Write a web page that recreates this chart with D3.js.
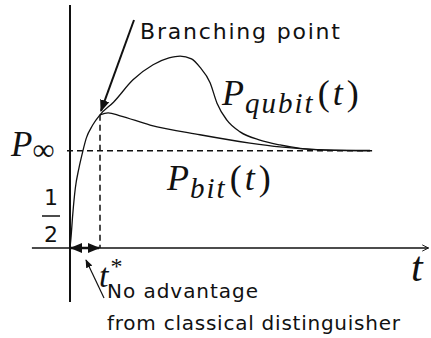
<!DOCTYPE html>
<html lang="en">
  <head>
    <meta charset="utf-8">
    <title>Branching point</title>
    <script type="text/javascript" src="https://cdn.jsdelivr.net/npm/d3@7/dist/d3.min.js"></script>
    <style type="text/css">
      body { margin: 0; background: #fff; }
      .sans { font-family: "DejaVu Sans", sans-serif; fill: #111; }
      .math { font-family: "Liberation Serif", serif; font-style: italic; fill: #111; }
    </style>
  </head>
  <body>
  <script type="text/javascript">

    const w = 431;
    const h = 338;

    // shared rise from 1/2 up to the branching point t*
    const riseT = [0, 0.033, 0.09, 0.177, 0.30, 0.423, 0.543, 0.757, 1.0];
    const riseP = [0.5, 0.521, 0.568, 0.623, 0.665, 0.698, 0.726, 0.753, 0.774];

    // qubit curve after t*
    const qubitT = [1.45, 2.1, 2.77, 3.3, 3.67, 4.05, 4.33, 4.67, 4.9, 5.23, 5.67, 6.33, 7.0, 7.67, 8.5, 10.0];
    const qubitP = [0.800, 0.846, 0.877, 0.891, 0.895, 0.889, 0.872, 0.840, 0.798, 0.763, 0.739, 0.722, 0.712, 0.705, 0.702, 0.701];

    // bit curve after t*
    const bitT = [1.0, 1.27, 1.67, 2.67, 4.33, 6.0, 7.0, 8.33, 10.0];
    const bitP = [0.774, 0.778, 0.772, 0.753, 0.733, 0.716, 0.708, 0.702, 0.700];

    const pInf = 0.70;
    const tStar = 1.0;
    const tEnd = 10.07;

    const x = d3.scaleLinear().domain([0, 12]).range([70, 430]);
    const y = d3.scaleLinear().domain([0.5, 1.0]).range([248, 5]);

    const svg = d3.select("body")
                  .append("svg")
                  .attr("width", w)
                  .attr("height", h);

    const defs = svg.append("defs");
    function head(id, size) {
      defs.append("marker")
          .attr("id", id)
          .attr("viewBox", "0 0 10 10")
          .attr("refX", 9).attr("refY", 5)
          .attr("markerWidth", size).attr("markerHeight", size)
          .attr("orient", "auto-start-reverse")
          .append("path")
          .attr("d", "M0,1 L10,5 L0,9 Z")
          .attr("fill", "#111");
    }
    head("head", 5);
    head("big", 6);
    head("small", 7);
    defs.append("marker")
        .attr("id", "open")
        .attr("viewBox", "0 0 10 10")
        .attr("refX", 9).attr("refY", 5)
        .attr("markerWidth", 6).attr("markerHeight", 6)
        .attr("orient", "auto")
        .append("path")
        .attr("d", "M1,1 L9,5 L1,9")
        .attr("fill", "none")
        .attr("stroke", "#111")
        .attr("stroke-width", 1.2);

    // axes
    svg.append("line")
       .attr("x1", x(-1.27)).attr("x2", x(11.95))
       .attr("y1", y(0.5)).attr("y2", y(0.5))
       .attr("stroke", "#111").attr("stroke-width", 1.3)
       .attr("marker-end", "url(#open)");
    svg.append("line")
       .attr("x1", x(0)).attr("x2", x(0))
       .attr("y1", y(1.0)).attr("y2", y(0.389))
       .attr("stroke", "#111").attr("stroke-width", 2);

    // dashed guides
    svg.append("line")
       .attr("x1", x(-0.1)).attr("x2", x(tEnd))
       .attr("y1", y(pInf)).attr("y2", y(pInf))
       .attr("stroke", "#111").attr("stroke-width", 1.5)
       .attr("stroke-dasharray", "6,4");
    svg.append("line")
       .attr("x1", x(tStar)).attr("x2", x(tStar))
       .attr("y1", y(0.774)).attr("y2", y(0.5))
       .attr("stroke", "#111").attr("stroke-width", 1.5)
       .attr("stroke-dasharray", "6,4");

    const line = d3.line()
                   .x(d => x(d[0]))
                   .y(d => y(d[1]))
                   .curve(d3.curveMonotoneX);

    const qubit = riseT.map((t, i) => [t, riseP[i]])
                       .concat(qubitT.map((t, i) => [t, qubitP[i]]));
    const bit = bitT.map((t, i) => [t, bitP[i]]);

    svg.append("path")
       .attr("d", line(qubit))
       .attr("fill", "none")
       .attr("stroke", "#111")
       .attr("stroke-width", 1.3);
    svg.append("path")
       .attr("d", line(bit))
       .attr("fill", "none")
       .attr("stroke", "#111")
       .attr("stroke-width", 1.3);

    // t* double arrow
    svg.append("line")
       .attr("x1", x(0) + 1).attr("x2", x(tStar) - 1)
       .attr("y1", y(0.5)).attr("y2", y(0.5))
       .attr("stroke", "#111").attr("stroke-width", 2.5)
       .attr("marker-start", "url(#head)")
       .attr("marker-end", "url(#head)");

    // branching point arrow
    svg.append("line")
       .attr("x1", 134).attr("y1", 20)
       .attr("x2", x(tStar) + 1).attr("y2", y(0.774) - 4)
       .attr("stroke", "#111").attr("stroke-width", 2)
       .attr("marker-end", "url(#big)");
    svg.append("text")
       .attr("class", "sans")
       .attr("x", 140).attr("y", 39)
       .attr("textLength", 200).attr("lengthAdjust", "spacing")
       .style("font-size", "22px")
       .text("Branching point");

    // no advantage pointer
    svg.append("line")
       .attr("x1", 104).attr("y1", 298)
       .attr("x2", 86).attr("y2", 260)
       .attr("stroke", "#111").attr("stroke-width", 1.2)
       .attr("marker-end", "url(#small)");
    svg.append("text")
       .attr("class", "sans")
       .attr("x", 107).attr("y", 298)
       .attr("textLength", 151).attr("lengthAdjust", "spacing")
       .style("font-size", "20px")
       .text("No advantage");
    svg.append("text")
       .attr("class", "sans")
       .attr("x", 107).attr("y", 330)
       .attr("textLength", 293).attr("lengthAdjust", "spacing")
       .style("font-size", "20px")
       .text("from classical distinguisher");

    // math labels
    function mathLabel(px, py, sub) {
      const t = svg.append("text").attr("class", "math")
                   .attr("x", px).attr("y", py)
                   .style("font-size", "36px");
      t.append("tspan").text("P");
      t.append("tspan").attr("dy", 8).attr("dx", 1)
       .style("font-size", "29px").style("letter-spacing", "2px").text(sub);
      t.append("tspan").attr("dy", -8).attr("dx", 3).style("font-style", "normal").text("(");
      t.append("tspan").attr("dx", 3).text("t");
      t.append("tspan").attr("dx", 4).style("font-style", "normal").text(")");
    }
    mathLabel(222, 105, "qubit");
    mathLabel(167, 190, "bit");

    const pi = svg.append("text").attr("class", "math")
                  .attr("x", 11).attr("y", 156)
                  .style("font-size", "35px");
    pi.append("tspan").text("P");
    pi.append("tspan").attr("dy", 4).style("font-style", "normal")
      .style("font-size", "31px").text("\u221E");

    // one half
    svg.append("text").attr("class", "sans")
       .attr("x", 51).attr("y", 205)
       .attr("text-anchor", "middle")
       .style("font-size", "22px")
       .text("1");
    svg.append("line")
       .attr("x1", 42).attr("x2", 60)
       .attr("y1", 216).attr("y2", 216)
       .attr("stroke", "#111").attr("stroke-width", 1.5);
    svg.append("text").attr("class", "sans")
       .attr("x", 51).attr("y", 242)
       .attr("text-anchor", "middle")
       .style("font-size", "22px")
       .text("2");

    const ts = svg.append("text").attr("class", "math")
                  .attr("x", 99).attr("y", 287)
                  .style("font-size", "34px");
    ts.append("tspan").text("t");
    ts.append("tspan").attr("dy", -13).attr("dx", 2).style("font-style", "normal")
      .style("font-size", "24px").text("*");

    svg.append("text").attr("class", "math")
       .attr("x", 411).attr("y", 281)
       .style("font-size", "42px")
       .text("t");

  </script>
  </body>
</html>
